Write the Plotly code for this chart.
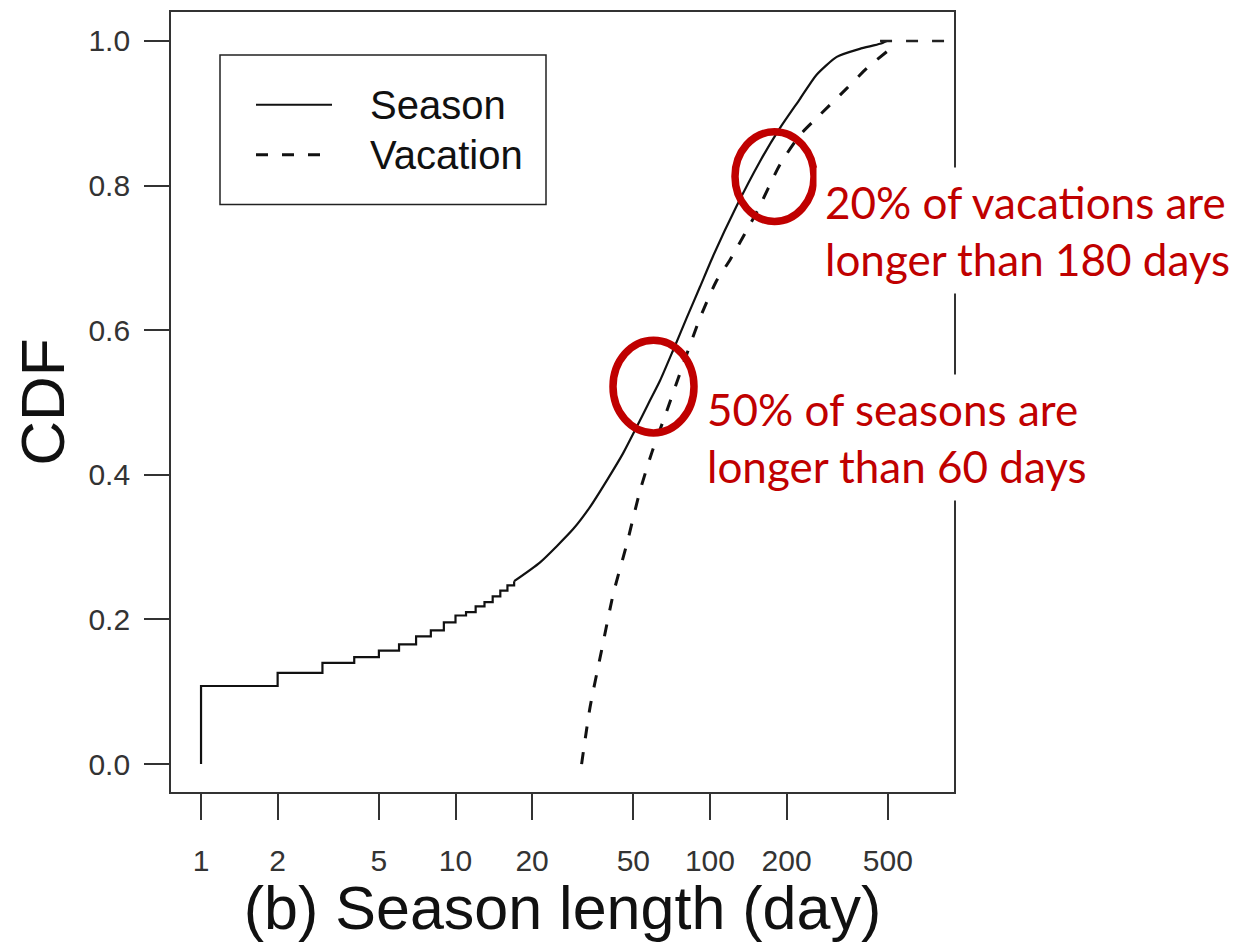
import plotly.graph_objects as go

# ---------------- data ----------------
season_step_days = [1, 1, 2, 3, 4, 5, 6, 7, 8, 9, 10, 11, 12, 13, 14, 15, 16, 17]
season_step_cdf = [0.0, 0.108, 0.126, 0.140, 0.148, 0.157, 0.1655, 0.1766, 0.185, 0.196,
                   0.2055, 0.210, 0.218, 0.224, 0.232, 0.240, 0.247, 0.253]

season_tail_days = [17, 21.5, 29, 33.7, 39.3, 45.6, 51.5, 57, 63.6, 71.8, 81, 91.4, 103,
                    127, 157, 188, 226, 262, 315, 388, 466, 495]
season_tail_cdf = [0.253, 0.279, 0.325, 0.355, 0.392, 0.430, 0.466, 0.497, 0.530, 0.573,
                   0.617, 0.660, 0.703, 0.771, 0.833, 0.879, 0.920, 0.953, 0.978, 0.989,
                   0.996, 1.0]

vacation_days = [31.3, 33.8, 37.5, 41.7, 47.1, 53.1, 59, 67.6, 78.5, 91.4, 106, 120,
                 153, 188, 226, 270, 344, 413, 495]
vacation_cdf = [0.0, 0.079, 0.157, 0.2355, 0.304, 0.378, 0.43, 0.488, 0.553, 0.617, 0.668,
                0.6975, 0.764, 0.8285, 0.870, 0.8975, 0.934, 0.962, 0.985]
vacation_top_days = [466, 1000]
vacation_top_cdf = [1.0, 1.0]

x_ticks = [1, 2, 5, 10, 20, 50, 100, 200, 500]
x_tick_labels = ["1", "2", "5", "10", "20", "50", "100", "200", "500"]
y_ticks = [0.0, 0.2, 0.4, 0.6, 0.8, 1.0]
y_tick_labels = ["0.0", "0.2", "0.4", "0.6", "0.8", "1.0"]

series_names = ["Season", "Vacation"]
note_vacation = "20% of vacations are<br>longer than 180 days"
note_season = "50% of seasons are<br>longer than 60 days"

# ---------------- figure ----------------
OFF = 8  # page body margin
W, H = 1244 - OFF, 942 - OFF
ML, MT = 171 - OFF, 10 - OFF
PW, PH = 783, 782
MR, MB = W - ML - PW, H - MT - PH
AX = "Liberation Sans, Arial, sans-serif"
RED = "#C00000"
CAL = "Lato, Carlito, sans-serif"

fig = go.Figure()
fig.add_trace(go.Scatter(x=season_step_days, y=season_step_cdf, mode="lines",
                         line=dict(color="#111111", width=2.2, shape="hv"),
                         name=series_names[0], showlegend=False))
fig.add_trace(go.Scatter(x=season_tail_days, y=season_tail_cdf, mode="lines",
                         line=dict(color="#111111", width=2.2, shape="spline", smoothing=0.6),
                         name=series_names[0], showlegend=False))
fig.add_trace(go.Scatter(x=vacation_days, y=vacation_cdf, mode="lines",
                         line=dict(color="#111111", width=3, dash="12px,14px",
                                   shape="spline", smoothing=0.6),
                         name=series_names[1], showlegend=False))
fig.add_trace(go.Scatter(x=vacation_top_days, y=vacation_top_cdf, mode="lines",
                         line=dict(color="#222222", width=2.5, dash="12px,14px"),
                         name=series_names[1], showlegend=False))


def px(xp):
    # page pixel -> paper fraction
    return (xp - 171) / PW


def py(yp):
    return (792 - yp) / PH


shapes = []
# legend box
shapes.append(dict(type="rect", xref="paper", yref="paper",
                   x0=px(220), x1=px(546), y0=py(203), y1=py(53),
                   line=dict(color="#222222", width=1.5), fillcolor="white", layer="below"))
shapes.append(dict(type="line", xref="paper", yref="paper",
                   x0=px(256), x1=px(332), y0=py(103), y1=py(103),
                   line=dict(color="#111111", width=2)))
shapes.append(dict(type="line", xref="paper", yref="paper",
                   x0=px(256), x1=px(332), y0=py(153), y1=py(153),
                   line=dict(color="#111111", width=3, dash="12px,14px")))
# red ellipses
shapes.append(dict(type="circle", xref="paper", yref="paper",
                   x0=px(735), x1=px(814), y0=py(220), y1=py(130),
                   line=dict(color=RED, width=7.5)))
shapes.append(dict(type="circle", xref="paper", yref="paper",
                   x0=px(613), x1=px(694), y0=py(432), y1=py(339),
                   line=dict(color=RED, width=7.5)))

annotations = [
    dict(xref="paper", yref="paper", x=px(368), y=py(103), xanchor="left", yanchor="middle",
         text=series_names[0], showarrow=False, font=dict(family=AX, size=40, color="#111111")),
    dict(xref="paper", yref="paper", x=px(368), y=py(153), xanchor="left", yanchor="middle",
         text=series_names[1], showarrow=False, font=dict(family=AX, size=40, color="#111111")),
    dict(xref="paper", yref="paper", x=px(816), y=py(229), xanchor="left", yanchor="middle",
         text=note_vacation, showarrow=False, align="left", bgcolor="white", borderpad=8,
         font=dict(family=CAL, size=44, color=RED)),
    dict(xref="paper", yref="paper", x=px(698), y=py(437), xanchor="left", yanchor="middle",
         text=note_season, showarrow=False, align="left", bgcolor="white", borderpad=8,
         font=dict(family=CAL, size=44, color=RED)),
]

fig.update_layout(
    width=W, height=H,
    margin=dict(l=ML, r=MR, t=MT, b=MB, pad=0),
    paper_bgcolor="white", plot_bgcolor="white",
    shapes=shapes, annotations=annotations,
    showlegend=False,
    xaxis=dict(type="log", range=[-0.118, 2.959], tickvals=x_ticks, ticktext=x_tick_labels,
               ticks="outside", ticklen=26, tickwidth=1.5, tickcolor="#333333",
               showline=True, linecolor="#333333", linewidth=1.8, mirror=True,
               showgrid=False, zeroline=False, ticklabelstandoff=15,
               tickfont=dict(family=AX, size=30, color="#333333"),
               title=dict(text="(b) Season length (day)", standoff=0,
                          font=dict(family=AX, size=61, color="#111111"))),
    yaxis=dict(range=[-0.0386, 1.04], tickvals=y_ticks, ticktext=y_tick_labels,
               ticks="outside", ticklen=25, tickwidth=1.5, tickcolor="#333333",
               showline=True, linecolor="#333333", linewidth=1.8, mirror=True,
               showgrid=False, zeroline=False, ticklabelstandoff=8,
               tickfont=dict(family=AX, size=30, color="#333333"),
               title=dict(text="CDF", standoff=13,
                          font=dict(family=AX, size=62, color="#111111"))),
)

fig.write_html("out.html")
